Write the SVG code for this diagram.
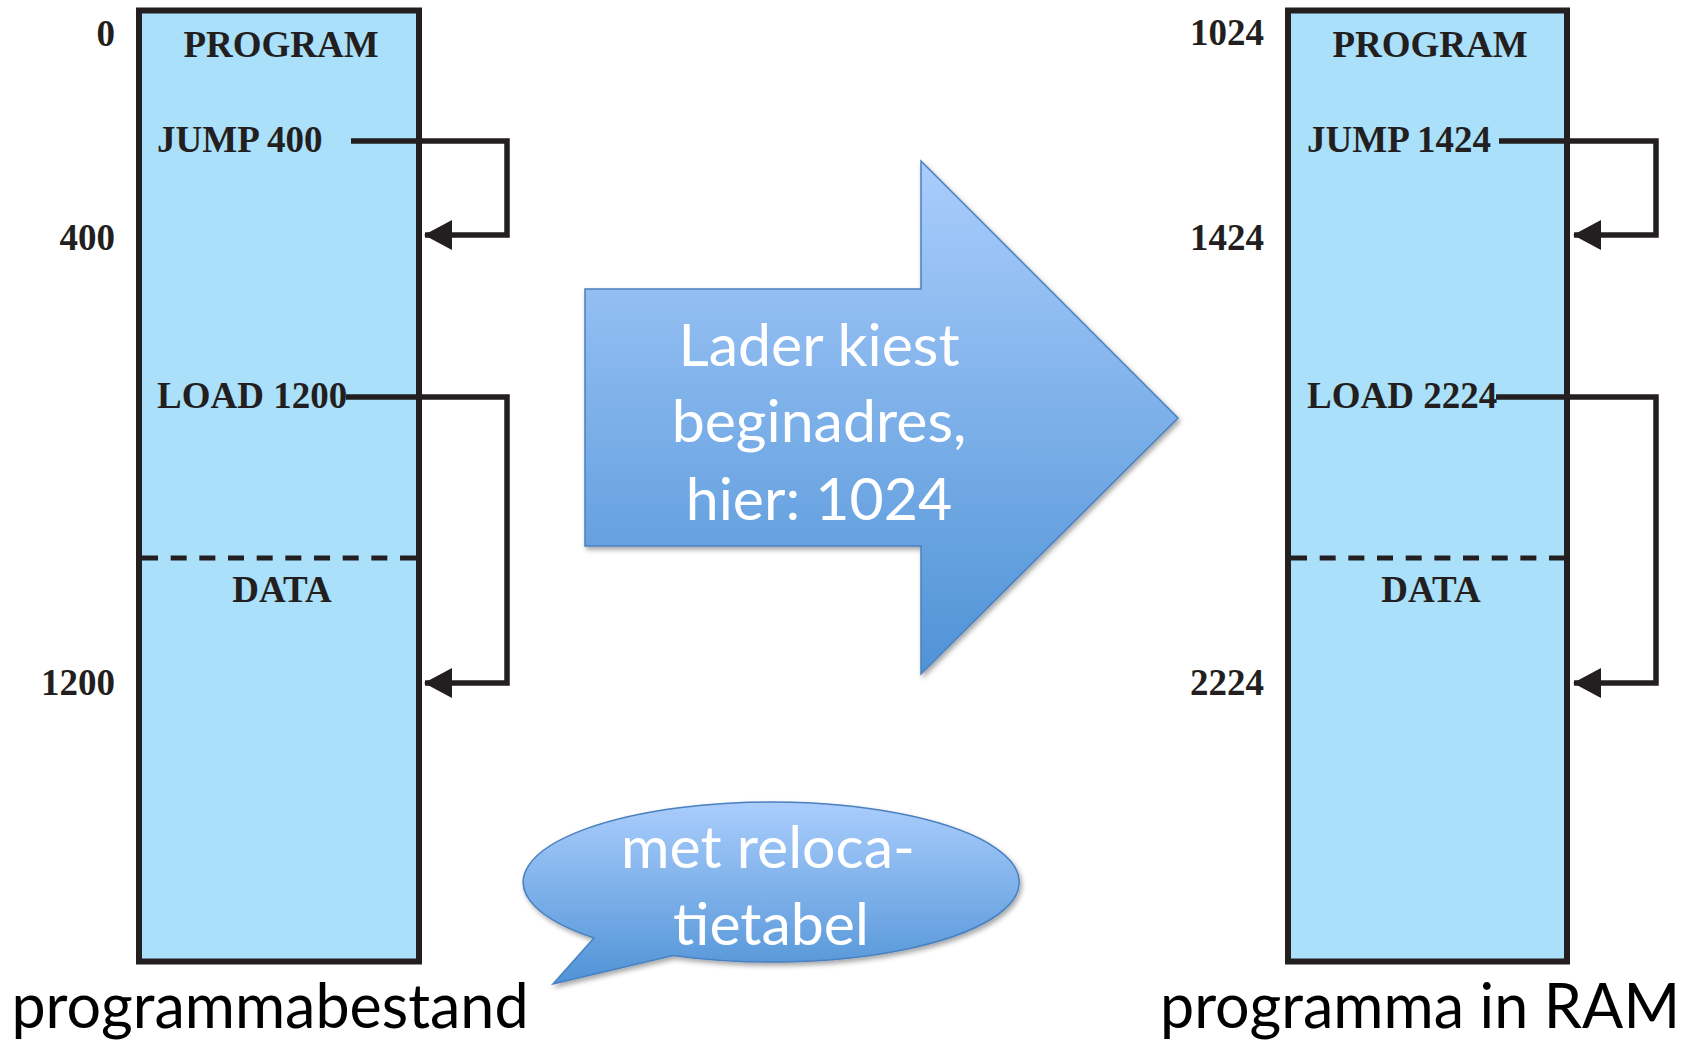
<svg xmlns="http://www.w3.org/2000/svg" width="1684" height="1045" viewBox="0 0 1684 1045">
<defs>
<style>
.box{fill:#aae0fa;stroke:#231f20;stroke-width:6}
.lbl{font-family:"Liberation Serif","Times New Roman",serif;font-weight:bold;font-size:37px;fill:#231f20}
.mid{text-anchor:middle}
.end{text-anchor:end}
.dash{stroke:#231f20;stroke-width:5;stroke-dasharray:16 12.67;fill:none}
.conn{stroke:#231f20;stroke-width:5.5;fill:none;marker-end:url(#ah)}
.cap{font-family:Lato,"Open Sans",sans-serif;font-size:61px;fill:#000;text-anchor:middle}
.wt{font-family:Lato,"Open Sans",sans-serif;font-size:59px;fill:#fff;text-anchor:middle}
.blue{fill:url(#bg);stroke:#4a80c0;stroke-width:1.5;filter:url(#sh)}
</style>
<linearGradient id="bg" x1="0" y1="0" x2="0" y2="1">
<stop offset="0" stop-color="#aacdfc"/>
<stop offset="1" stop-color="#4f93d6"/>
</linearGradient>
<filter id="sh" x="-10%" y="-10%" width="130%" height="130%">
<feDropShadow dx="2" dy="3" stdDeviation="2.5" flood-color="#000" flood-opacity="0.35"/>
</filter>
<marker id="ah" markerUnits="userSpaceOnUse" markerWidth="28" markerHeight="30" viewBox="0 0 28 30" refX="27" refY="15" orient="auto">
<path d="M0 0 L28 15 L0 30 Z" fill="#231f20"/>
</marker>
</defs>

<g id="programmabestand">
<rect class="box" x="139" y="10.5" width="280" height="951"/>
<text class="lbl mid" x="281" y="57">PROGRAM</text>
<text class="lbl" x="157" y="152">JUMP 400</text>
<text class="lbl" x="157" y="408">LOAD 1200</text>
<line class="dash" x1="142" y1="558" x2="416" y2="558"/>
<text class="lbl mid" x="282" y="602">DATA</text>
<text class="lbl end" x="115" y="46">0</text>
<text class="lbl end" x="115" y="250">400</text>
<text class="lbl end" x="115" y="695">1200</text>
<text class="cap" x="270" y="1028">programmabestand</text>
</g>

<g id="programma-in-ram">
<rect class="box" x="1288" y="10.5" width="279" height="951"/>
<text class="lbl mid" x="1430" y="57">PROGRAM</text>
<text class="lbl" x="1307" y="152">JUMP 1424</text>
<text class="lbl" x="1307" y="408">LOAD 2224</text>
<line class="dash" x1="1291" y1="558" x2="1564" y2="558"/>
<text class="lbl mid" x="1431" y="602">DATA</text>
<text class="lbl end" x="1264" y="45">1024</text>
<text class="lbl end" x="1264" y="250">1424</text>
<text class="lbl end" x="1264" y="695">2224</text>
<text class="cap" x="1420" y="1028">programma in RAM</text>
</g>

<g id="lader">
<path class="blue" d="M585 289 H921 V161 L1178 418 L921 674 V546 H585 Z"/>
<text class="wt" x="819" y="366">Lader kiest</text>
<text class="wt" x="819" y="442">beginadres,</text>
<text class="wt" x="819" y="520">hier: 1024</text>
</g>

<g id="relocatietabel">
<path class="blue" d="M594 938 L553 984 L673 955.5 A248 80 0 1 0 594 938 Z"/>
<text class="wt" x="768" y="868">met reloca-</text>
<text class="wt" x="771" y="945">tietabel</text>
</g>

<g id="connectors">
<path class="conn" d="M351 141 H507 V235 H425"/>
<path class="conn" d="M346 397 H507 V683 H425"/>
<path class="conn" d="M1499 141 H1656 V235 H1574"/>
<path class="conn" d="M1496 397 H1656 V683 H1574"/>
</g>
</svg>
